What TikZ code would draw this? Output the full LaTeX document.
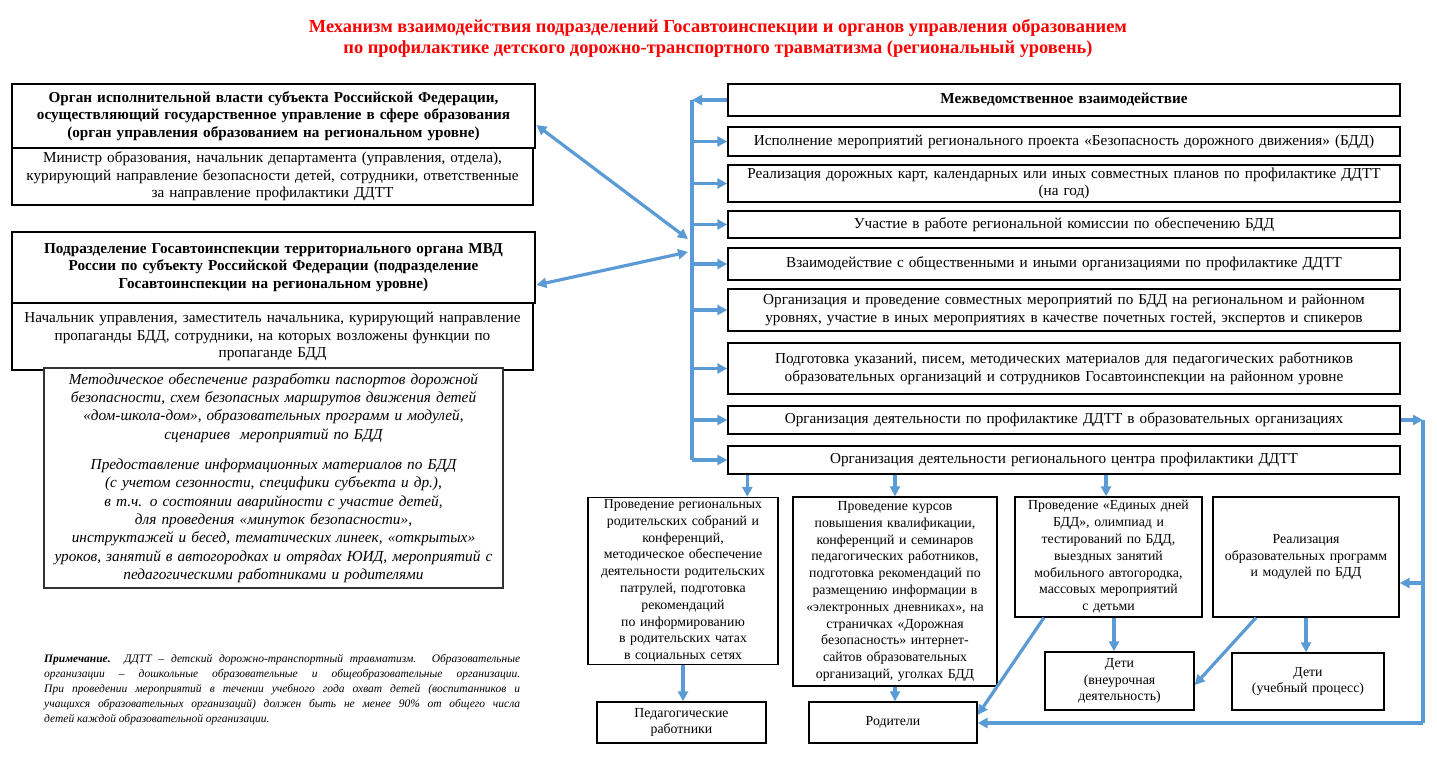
\documentclass[tikz,border=0pt]{standalone}
\usepackage{fontspec}
\setmainfont{Liberation Serif}
\usetikzlibrary{arrows.meta,calc}
\definecolor{arrblue}{RGB}{91,155,213}
\definecolor{titlered}{RGB}{255,0,0}
\newcommand{\fsmain}{\fontsize{15.2}{17.6}\selectfont}
\newcommand{\fsbot}{\fontsize{13.8}{16.8}\selectfont}
\begin{document}
\begin{tikzpicture}[x=1pt,y=-1pt,
  box/.style={draw=black, line width=1.4pt, align=center, inner sep=2pt, fill=white, font=\fsmain},
  hbox/.style={box, line width=2.8pt, font=\fsmain\bfseries},
  bbox/.style={box, font=\fsbot},
  ibox/.style={draw=black!80, line width=1.5pt, align=center, inner sep=2pt, fill=white, font=\fontsize{15.3}{18.3}\selectfont\itshape},
  bline/.style={draw=arrblue, line width=3.2pt},
  arr/.style={bline, -{Triangle[length=10pt,width=10pt]}},
  darr/.style={bline, {Triangle[length=10pt,width=10pt]}-{Triangle[length=10pt,width=10pt]}}]
\useasboundingbox (0,0) rectangle (1437,776);

% title
\node[font=\fontsize{18.4}{21}\selectfont\bfseries, text=titlered, align=center] (title) at (718,38.5)
  {Механизм взаимодействия подразделений Госавтоинспекции и органов управления образованием\\
   по профилактике детского дорожно-транспортного травматизма (региональный уровень)};

% left column
\node[box, minimum width=521pt, minimum height=57pt, text width=517pt] (L1s) at (272.5,176.5)
  {Министр образования, начальник департамента (управления, отдела),\\
   курирующий направление безопасности детей, сотрудники, ответственные\\
   за направление профилактики ДДТТ};
\node[hbox, minimum width=523pt, minimum height=64pt, text width=517pt] (L1h) at (273.5,116)
  {Орган исполнительной власти субъекта Российской Федерации,\\
   осуществляющий государственное управление в сфере образования\\
   (орган управления образованием на региональном уровне)};

\node[box, minimum width=521pt, minimum height=67pt, text width=517pt] (L2s) at (272.5,336.5)
  {Начальник управления, заместитель начальника, курирующий направление\\
   пропаганды БДД, сотрудники, на которых возложены функции по\\
   пропаганде БДД};
\node[hbox, minimum width=523pt, minimum height=71pt, text width=517pt] (L2h) at (273.5,267.5)
  {Подразделение Госавтоинспекции территориального органа МВД\\
   России по субъекту Российской Федерации (подразделение\\
   Госавтоинспекции на региональном уровне)};

\node[ibox, minimum width=459pt, minimum height=220pt, text width=455pt] (M) at (273.5,478)
  {Методическое обеспечение разработки паспортов дорожной\\
   безопасности, схем безопасных маршрутов движения детей\\
   «дом-школа-дом», образовательных программ и модулей,\\
   сценариев\ \ мероприятий по БДД\\[12pt]
   Предоставление информационных материалов по БДД\\
   (с учетом сезонности, специфики субъекта и др.),\\
   в т.ч. о состоянии аварийности с участие детей,\\
   для проведения «минуток безопасности»,\\
   инструктажей и бесед, тематических линеек, «открытых»\\
   уроков, занятий в автогородках и отрядах ЮИД, мероприятий с\\
   педагогическими работниками и родителями};

\node[anchor=north west, inner sep=0pt, text width=476pt, align=justify,
      font=\fontsize{11.5}{15}\selectfont\itshape] (note) at (44,654)
  {\textbf{Примечание.}\ \ ДДТТ – детский дорожно-транспортный травматизм. Образовательные\linebreak
   организации – дошкольные образовательные и общеобразовательные организации.\linebreak
   При проведении мероприятий в течении учебного года охват детей (воспитанников и\linebreak
   учащихся образовательных организаций) должен быть не менее 90\% от общего числа\linebreak
   детей каждой образовательной организации.};

% right column
\node[box, font=\fsmain\bfseries, minimum width=672pt, minimum height=32pt, text width=668pt] (R1) at (1064,100)
  {Межведомственное взаимодействие};
\node[box, minimum width=672pt, minimum height=29pt, text width=668pt] (R2) at (1064,141.5)
  {Исполнение мероприятий регионального проекта «Безопасность дорожного движения» (БДД)};
\node[box, minimum width=672pt, minimum height=37pt, text width=668pt] (R3) at (1064,183.5)
  {Реализация дорожных карт, календарных или иных совместных планов по профилактике ДДТТ\\(на год)};
\node[box, minimum width=672pt, minimum height=27pt, text width=668pt] (R4) at (1064,224.5)
  {Участие в работе региональной комиссии по обеспечению БДД};
\node[box, minimum width=672pt, minimum height=32pt, text width=668pt] (R5) at (1064,264)
  {Взаимодействие с общественными и иными организациями по профилактике ДДТТ};
\node[box, minimum width=672pt, minimum height=42pt, text width=668pt] (R6) at (1064,310)
  {Организация и проведение совместных мероприятий по БДД на региональном и районном\\
   уровнях, участие в иных мероприятиях в качестве почетных гостей, экспертов и спикеров};
\node[box, minimum width=672pt, minimum height=51pt, text width=668pt] (R7) at (1064,368.5)
  {Подготовка указаний, писем, методических материалов для педагогических работников\\
   образовательных организаций и сотрудников Госавтоинспекции на районном уровне};
\node[box, minimum width=672pt, minimum height=28pt, text width=668pt] (R8) at (1064,420)
  {Организация деятельности по профилактике ДДТТ в образовательных организациях};
\node[box, minimum width=672pt, minimum height=28pt, text width=668pt] (R9) at (1064,460)
  {Организация деятельности регионального центра профилактики ДДТТ};

% bottom row
\node[bbox, minimum width=190pt, minimum height=166pt, text width=186pt] (A) at (683,581)
  {Проведение региональных\\родительских собраний и\\конференций,\\методическое обеспечение\\
   деятельности родительских\\патрулей, подготовка\\рекомендаций\\по информированию\\
   в родительских чатах\\в социальных сетях};
\node[bbox, minimum width=204pt, minimum height=189pt, text width=200pt] (B) at (895,591.5)
  {Проведение курсов\\повышения квалификации,\\конференций и семинаров\\педагогических работников,\\
   подготовка рекомендаций по\\размещению информации в\\«электронных дневниках», на\\
   страничках «Дорожная\\безопасность» интернет-\\сайтов образовательных\\организаций, уголках БДД};
\node[bbox, minimum width=187pt, minimum height=120pt, text width=183pt] (C) at (1108.5,557)
  {Проведение «Единых дней\\БДД», олимпиад и\\тестирований по БДД,\\выездных занятий\\
   мобильного автогородка,\\массовых мероприятий\\с детьми};
\node[bbox, minimum width=186pt, minimum height=120pt, text width=182pt] (D) at (1306,557)
  {Реализация\\образовательных программ\\и модулей по БДД};
\node[bbox, minimum width=169pt, minimum height=41pt, text width=165pt] (E) at (681.5,722.5)
  {Педагогические\\работники};
\node[bbox, minimum width=168pt, minimum height=41pt, text width=164pt] (F) at (893,722.5)
  {Родители};
\node[bbox, minimum width=149pt, minimum height=58pt, text width=145pt] (G) at (1119.5,681)
  {Дети\\(внеурочная\\деятельность)};
\node[bbox, minimum width=152pt, minimum height=57pt, text width=148pt] (H) at (1308,681.5)
  {Дети\\(учебный процесс)};

% bus
\coordinate (bt) at (692,100);
\coordinate (bb) at (692,460);
\draw[bline] (bt) -- (bb);
\draw[arr] (R1.west) -- (bt);
\foreach \n in {R2,R3,R4,R5,R6,R7,R8,R9} \draw[arr] (\n.west -| bt) -- (\n.west);

\coordinate (j1) at (688,239);
\coordinate (j2) at (688,252);
\draw[darr] ([yshift=-9pt]L1h.east) -- (j1);
\draw[darr] ([yshift=-17.5pt]L2h.east) -- (j2);

% from regional centre
\draw[arr] ([xshift=20pt]R9.south west) -- ([xshift=20pt]R9.south west |- A.north);
\draw[arr] (R9.south -| B.north) -- (B.north);
\draw[arr] ([xshift=-2.5pt]R9.south -| C.north) -- ([xshift=-2.5pt]C.north);

% bottom arrows
\draw[arr] (A.south) -- (A.south |- E.north);
\draw[arr] (B.south) -- (B.south |- F.north);
\draw[arr] ([xshift=5.5pt]C.south) -- ([xshift=5.5pt]C.south |- G.north);
\draw[arr] (D.south) -- (D.south |- H.north);
\draw[arr] ([xshift=-64.5pt]C.south) -- ([yshift=7.5pt]F.east);
\draw[arr] ([xshift=-50pt]D.south) -- ([yshift=-4pt]G.east);

% right loop
\coordinate (rb) at (1423,723);
\coordinate (dj) at (1423,583);
\draw[arr] (R8.east) -- (R8.east -| rb);
\draw[bline] (R8.east -| rb) -- (rb);
\draw[arr] (rb) -- (rb -| F.east);
\draw[arr] (dj) -- (dj -| D.east);
\end{tikzpicture}
\end{document}
